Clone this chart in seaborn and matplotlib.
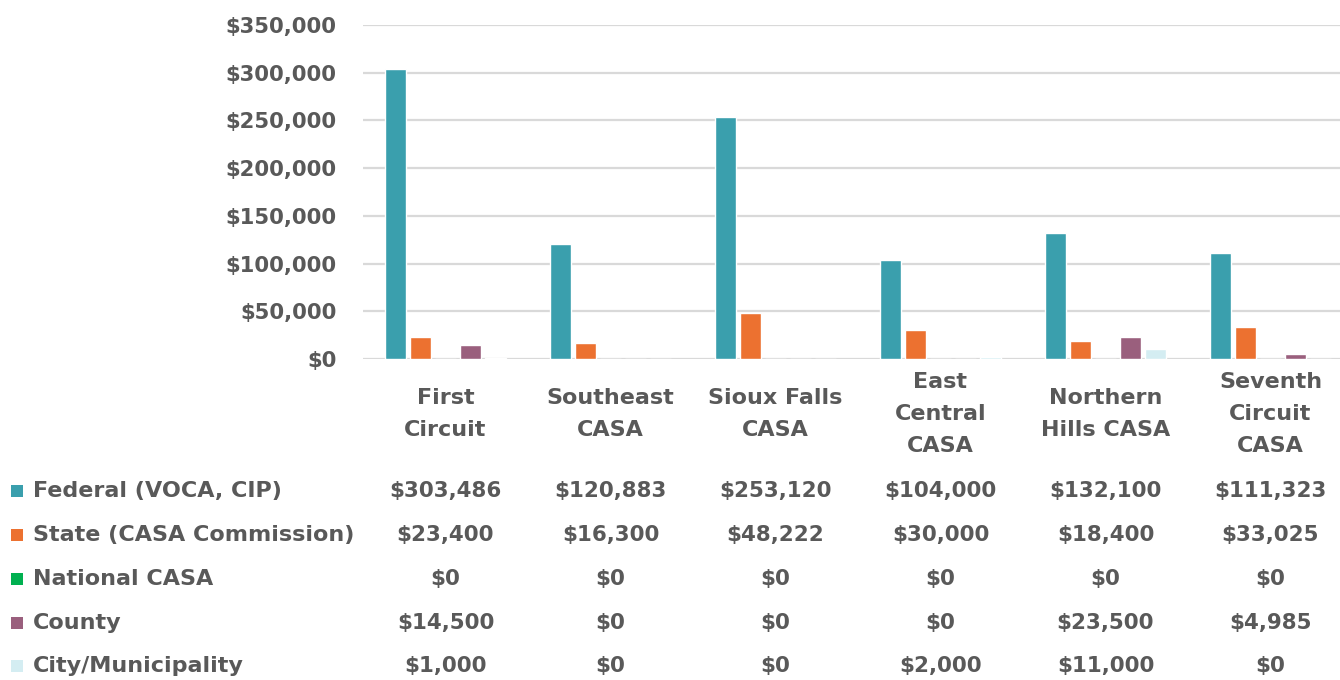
import matplotlib
matplotlib.use("Agg")
import matplotlib.pyplot as plt
import matplotlib.transforms as mtransforms
from matplotlib.patches import Rectangle
import seaborn as sns
import pandas as pd

categories = ["First\nCircuit", "Southeast\nCASA", "Sioux Falls\nCASA",
              "East\nCentral\nCASA", "Northern\nHills CASA", "Seventh\nCircuit\nCASA"]
series_names = ["Federal (VOCA, CIP)", "State (CASA Commission)", "National CASA",
                "County", "City/Municipality"]
federal = [303486, 120883, 253120, 104000, 132100, 111323]
state = [23400, 16300, 48222, 30000, 18400, 33025]
national = [0, 0, 0, 0, 0, 0]
county = [14500, 0, 0, 0, 23500, 4985]
city = [1000, 0, 0, 2000, 11000, 0]
yticks = [0, 50000, 100000, 150000, 200000, 250000, 300000, 350000]
colors = ["#3A9FAD", "#EC7130", "#00B050", "#9A5F7D", "#D4EDF2"]

all_series = [federal, state, national, county, city]
rows = []
for name, vals in zip(series_names, all_series):
    for cat, v in zip(categories, vals):
        rows.append({"category": cat, "source": name, "value": v})
df = pd.DataFrame(rows)

sns.set_theme(style="white")
plt.rcParams["font.family"] = ["DejaVu Sans"]
TXT = "#595959"
W, H = 1340, 680
fig = plt.figure(figsize=(W / 100, H / 100), dpi=100)
ax = fig.add_axes([363 / W, 1 - 359 / H, 990 / W, (359 - 25) / H])

sns.barplot(data=df, x="category", y="value", hue="source", hue_order=series_names,
            order=categories, palette=colors, width=0.76, gap=0.18, legend=False,
            saturation=1, ax=ax)

ax.set_ylim(0, 350000)
ax.set_xlim(-0.5, 5.5)
ax.set_yticks(yticks)
ax.set_yticklabels([f"${v:,.0f}" for v in yticks], fontsize=15.2, fontweight="bold", color=TXT)
ax.tick_params(axis="y", length=0, pad=19)
ax.set_xticks([])
ax.set_xlabel("")
ax.set_ylabel("")
for s in ax.spines.values():
    s.set_visible(False)
ax.grid(axis="y", color="#D9D9D9", linewidth=1.6)
ax.set_axisbelow(True)

trans = mtransforms.blended_transform_factory(ax.transData, fig.transFigure)
for i, cat in enumerate(categories):
    ax.text(i, 1 - 414 / H, cat, transform=trans, ha="center", va="center",
            fontsize=16, fontweight="bold", color=TXT, linespacing=1.75, clip_on=False)

row_y = [491, 535, 579, 623, 666]
for name, vals, col, y in zip(series_names, all_series, colors, row_y):
    yf = 1 - y / H
    fig.patches.append(Rectangle((11 / W, yf - 6 / H), 12 / W, 12 / H,
                                 transform=fig.transFigure, facecolor=col,
                                 edgecolor="none"))
    fig.text(33 / W, yf, name, ha="left", va="center", fontsize=16,
             fontweight="bold", color=TXT)
    for i, v in enumerate(vals):
        ax.text(i, yf, f"${v:,.0f}", transform=trans, ha="center", va="center",
                fontsize=15.4, fontweight="bold", color=TXT, clip_on=False)

fig.savefig("out.png", dpi=100)
